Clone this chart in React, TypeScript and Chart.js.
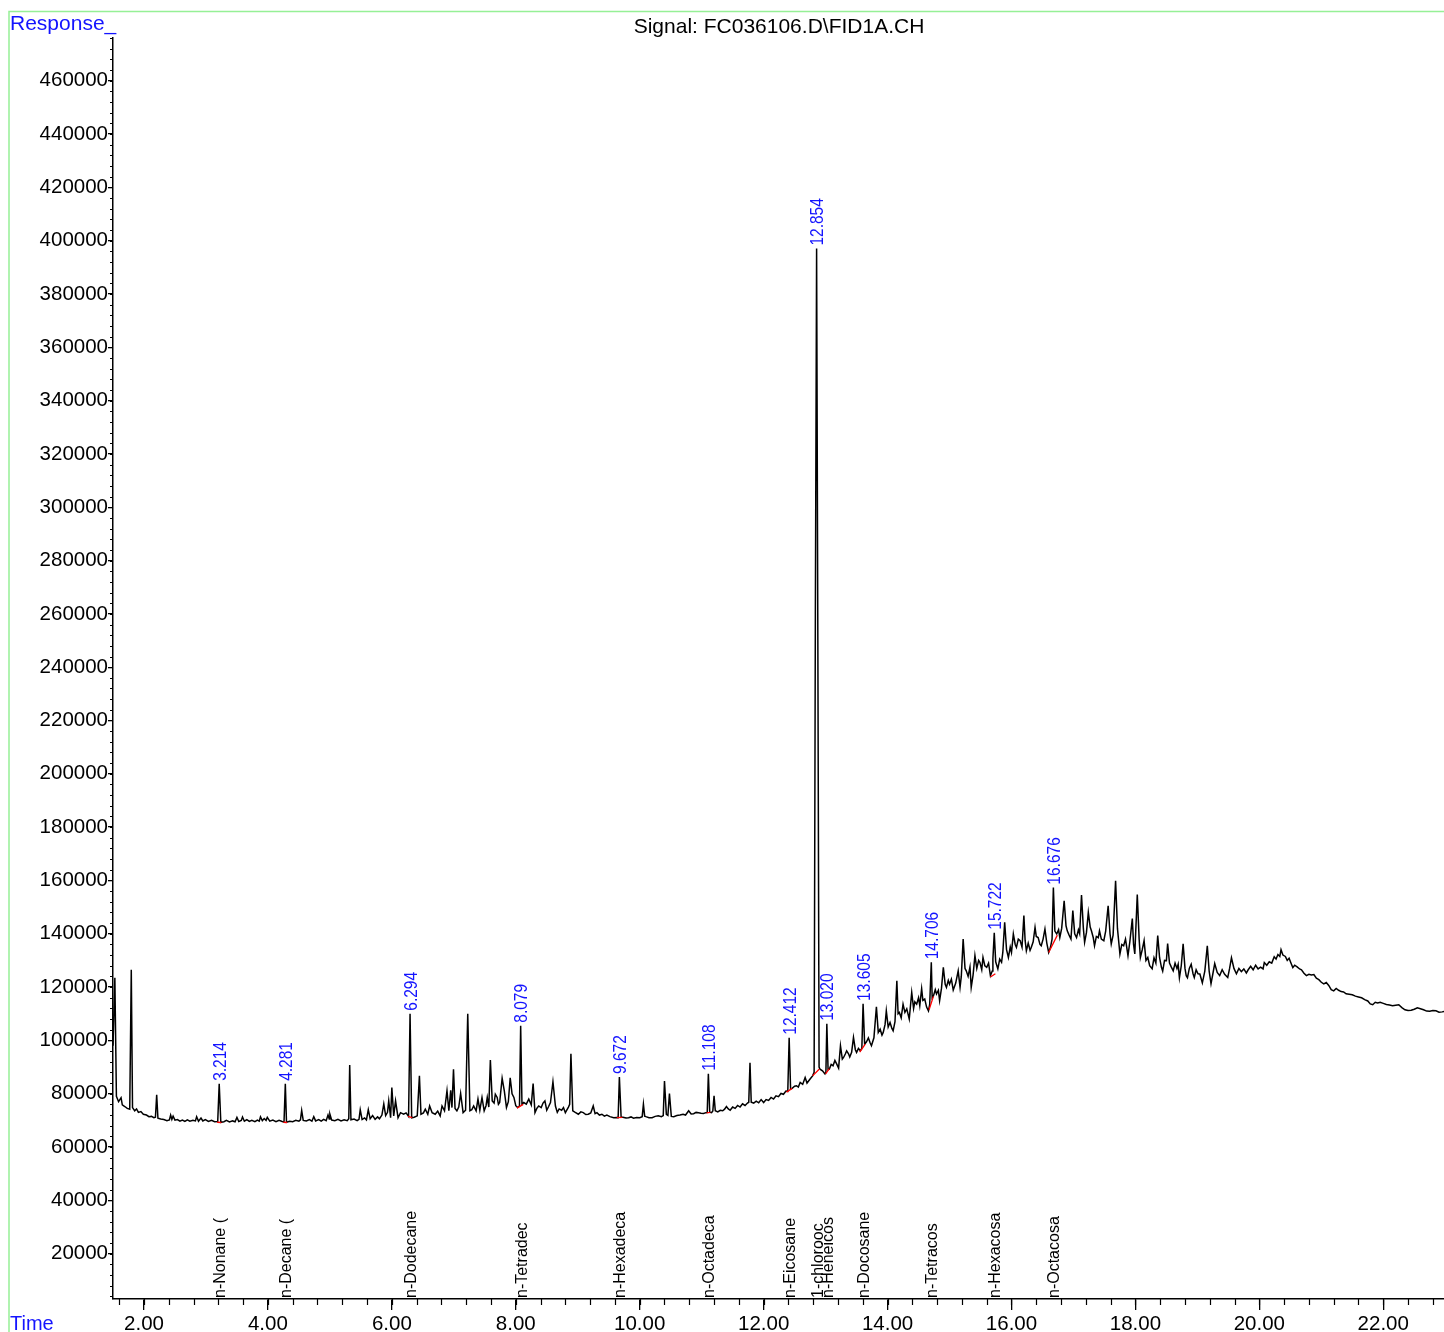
import React, { useEffect, useRef } from "react";
import { Chart, registerables } from "chart.js";

Chart.register(...registerables);

// ---- axes ----
const X_MIN = 1.5;
const X_MAX = 22.98;
const Y_MIN = 3000;
const Y_MAX = 476000;
const X_TICKS = [2, 4, 6, 8, 10, 12, 14, 16, 18, 20, 22];
const Y_TICKS = [
  20000, 40000, 60000, 80000, 100000, 120000, 140000, 160000, 180000, 200000, 220000, 240000,
  260000, 280000, 300000, 320000, 340000, 360000, 380000, 400000, 420000, 440000, 460000,
];

// ---- annotated peaks ----
const PEAK_RT = [3.214, 4.281, 6.294, 8.079, 9.672, 11.108, 12.412, 12.854, 13.02, 13.605, 14.706, 15.722, 16.676];
const PEAK_LABELS = ["3.214", "4.281", "6.294", "8.079", "9.672", "11.108", "12.412", "12.854", "13.020", "13.605", "14.706", "15.722", "16.676"];
const COMPOUND_NAMES = [
  "n-Nonane (", "n-Decane (", "n-Dodecane", "n-Tetradec", "n-Hexadeca", "n-Octadeca", "n-Eicosane",
  "1-chlorooc", "n-Heneicos", "n-Docosane", "n-Tetracos", "n-Hexacosa", "n-Octacosa",
];

// integration baselines [t1, v1, t2, v2]
const BASELINES: number[][] = [
  [3.18, 69300, 3.25, 69200],
  [4.25, 69300, 4.31, 69200],
  [6.26, 71500, 6.33, 71000],
  [8.02, 74600, 8.12, 76000],
  [9.63, 71000, 9.72, 71100],
  [11.08, 72800, 11.14, 73000],
  [12.37, 80600, 12.46, 82000],
  [12.79, 86700, 12.9, 89300],
  [13.0, 87400, 13.06, 89400],
  [13.55, 95600, 13.64, 98600],
  [14.67, 111500, 14.74, 116500],
  [15.66, 123800, 15.74, 125000],
  [16.6, 133000, 16.74, 139500],
];

// ---- FID signal: [time (min), response] ----
const TRACE_EARLY: number[][] = [
  [1.5, 98000], [1.53, 123500], [1.555, 79000], [1.59, 77000], [1.63, 78500], [1.65, 75800], [1.69, 75200],
  [1.73, 74500], [1.77, 74200], [1.795, 126500], [1.815, 74800], [1.85, 73600], [1.88, 74300], [1.91, 73000],
  [1.95, 73300], [1.99, 72300], [2.04, 72000], [2.08, 71400], [2.12, 71500], [2.16, 71000], [2.185, 71200],
  [2.205, 79600], [2.225, 70800], [2.27, 70500], [2.32, 70300], [2.37, 69900], [2.41, 70200], [2.43, 72000],
  [2.45, 70400], [2.47, 71600], [2.5, 70100], [2.54, 70300], [2.58, 69700], [2.62, 70100], [2.66, 69600],
  [2.7, 70200], [2.74, 69700], [2.79, 70000], [2.83, 69800], [2.85, 71400], [2.88, 69700], [2.92, 70900],
  [2.95, 69800], [2.99, 70300], [3.04, 69600], [3.09, 70000], [3.14, 69500], [3.19, 69600], [3.214, 83700],
  [3.24, 69300], [3.29, 69500], [3.33, 70000], [3.38, 69400], [3.43, 69800], [3.47, 69500], [3.5, 71100],
  [3.53, 69600], [3.57, 70000], [3.59, 71300], [3.62, 69700], [3.66, 70300], [3.7, 69600], [3.74, 70000],
  [3.79, 69500], [3.83, 70100], [3.86, 69700], [3.88, 71300], [3.91, 69900], [3.94, 70700], [3.97, 70000],
  [3.99, 71100], [4.03, 69700], [4.08, 70100], [4.13, 69500], [4.18, 70000], [4.23, 69600], [4.26, 69400],
  [4.281, 83700], [4.3, 69300], [4.35, 69700], [4.4, 69500], [4.45, 70000], [4.5, 69700], [4.525, 70200],
  [4.545, 73700], [4.57, 70000], [4.62, 69800], [4.67, 70300], [4.71, 69700], [4.74, 71400], [4.77, 69800],
  [4.82, 70300], [4.86, 69700], [4.9, 70400], [4.94, 69900], [4.97, 72000], [4.99, 70500], [5.0, 72400],
  [5.03, 70100], [5.08, 69900], [5.13, 70400], [5.18, 69800], [5.23, 70200], [5.28, 69900], [5.305, 70600],
  [5.32, 90800], [5.34, 70200], [5.39, 70500], [5.44, 69900], [5.47, 70400], [5.49, 74000], [5.52, 70300],
  [5.56, 70900], [5.59, 70200], [5.62, 74000], [5.65, 70600], [5.69, 71800], [5.73, 70400], [5.77, 71300],
  [5.8, 70600],
];

const TRACE_MID: number[][] = [
  [5.84, 72000], [5.87, 76200], [5.9, 71800], [5.93, 73000], [5.95, 77300], [5.98, 71000], [6.0, 82300],
  [6.03, 71700], [6.06, 77300], [6.1, 71000], [6.14, 72900], [6.19, 72300], [6.23, 72800], [6.27, 71500],
  [6.294, 110000], [6.32, 71000], [6.36, 71200], [6.41, 71700], [6.445, 86700], [6.47, 72300], [6.51, 72800],
  [6.54, 74200], [6.58, 72300], [6.61, 75400], [6.65, 72900], [6.7, 72300], [6.74, 73500], [6.78, 71700],
  [6.81, 75400], [6.85, 73600], [6.89, 81100], [6.92, 73600], [6.95, 81300], [6.97, 74800], [6.995, 89200],
  [7.02, 74500], [7.05, 73600], [7.08, 75000], [7.11, 80100], [7.15, 72900], [7.19, 73800], [7.225, 110000],
  [7.26, 73600], [7.29, 74000], [7.32, 75400], [7.36, 73600], [7.39, 78000], [7.42, 73800], [7.455, 78600],
  [7.49, 73600], [7.52, 75500], [7.54, 78600], [7.565, 75000], [7.59, 92600], [7.62, 77300], [7.65, 76500],
  [7.67, 79800], [7.7, 78600], [7.72, 76000], [7.74, 76700], [7.78, 85800], [7.815, 81100], [7.85, 74800],
  [7.88, 77000], [7.91, 86000], [7.94, 80000], [7.97, 78600], [8.0, 75500], [8.03, 74800], [8.06, 75400],
  [8.079, 105500], [8.1, 76000], [8.13, 76700], [8.17, 76100], [8.21, 78000], [8.25, 75800], [8.28, 83800],
  [8.31, 72900], [8.34, 74500], [8.37, 75400], [8.41, 74800], [8.44, 76500], [8.47, 77300], [8.5, 73800],
  [8.53, 75200], [8.56, 76700], [8.6, 84500], [8.64, 75400], [8.67, 73000], [8.7, 74300], [8.74, 73800],
  [8.77, 74800], [8.8, 72900], [8.85, 75000], [8.87, 76000], [8.89, 95000], [8.92, 73600], [8.96, 73000],
  [9.01, 72300], [9.05, 73200], [9.09, 72900], [9.13, 72200], [9.17, 72300], [9.21, 72800], [9.25, 75400],
  [9.28, 72500], [9.31, 72900], [9.35, 72000], [9.39, 72300], [9.43, 71600], [9.47, 72000], [9.52, 71400],
  [9.58, 71000], [9.63, 71100], [9.652, 71000], [9.672, 86300], [9.7, 71200], [9.73, 71200], [9.78, 70900],
  [9.82, 71000], [9.86, 71300], [9.9, 70800], [9.95, 71100], [10.0, 71000], [10.04, 71400], [10.06, 76100],
  [10.08, 71600], [10.1, 71400], [10.15, 71000], [10.2, 71000], [10.25, 71500], [10.3, 71700], [10.35, 71400],
  [10.38, 71800], [10.4, 84800], [10.43, 72300], [10.455, 71900], [10.48, 80100], [10.51, 71500], [10.55, 71400],
  [10.6, 71800], [10.65, 72000], [10.7, 72300], [10.74, 72000], [10.79, 73600], [10.83, 72400], [10.87, 72500],
  [10.91, 73000], [10.95, 72900], [10.99, 72700], [11.03, 72600], [11.07, 72900], [11.09, 73000], [11.108, 87500],
  [11.13, 73100], [11.16, 72900], [11.18, 73500], [11.2, 79200], [11.22, 73600], [11.26, 73200], [11.3, 73800],
  [11.34, 73600], [11.37, 74200], [11.4, 75200], [11.43, 74300], [11.46, 73800],
];

const TRACE_RISE: number[][] = [
  [11.5, 75000], [11.54, 74500], [11.58, 75600], [11.62, 75000], [11.66, 76200], [11.7, 75600], [11.74, 76500],
  [11.76, 76800], [11.78, 91600], [11.8, 76800], [11.84, 76500], [11.88, 77200], [11.92, 76600], [11.96, 77800],
  [12.0, 76700], [12.04, 77800], [12.08, 77500], [12.12, 78600], [12.16, 78000], [12.2, 79200], [12.24, 78900],
  [12.28, 80100], [12.32, 79800], [12.36, 81000], [12.39, 80900], [12.412, 101000], [12.435, 81800],
  [12.46, 82000], [12.5, 82800], [12.53, 83000], [12.56, 82500], [12.59, 84200], [12.63, 83500], [12.67, 86100],
  [12.7, 84000], [12.75, 85500], [12.79, 86700], [12.815, 88000], [12.835, 260000], [12.855, 397000],
  [12.875, 250000], [12.895, 90000], [12.91, 89200], [12.95, 88600], [12.99, 87400], [13.005, 88000],
  [13.02, 106200], [13.04, 89000], [13.06, 89200], [13.09, 91000], [13.12, 90500], [13.15, 92500], [13.18, 91100],
  [13.21, 89600], [13.24, 98000], [13.27, 93000], [13.29, 93600], [13.32, 95000], [13.34, 96100], [13.37, 95000],
  [13.39, 93800], [13.42, 95500], [13.45, 101100], [13.48, 96500], [13.5, 95500], [13.53, 97000], [13.56, 96100],
  [13.585, 97000], [13.605, 113700], [13.63, 98600], [13.66, 99500], [13.69, 100900], [13.72, 99000],
  [13.74, 98000], [13.78, 101000], [13.82, 112600], [13.85, 103000], [13.88, 104200], [13.91, 102000],
  [13.93, 103000], [13.96, 106000], [13.98, 111100], [14.01, 105000], [14.04, 106700], [14.07, 104500],
  [14.09, 103600], [14.12, 107000], [14.15, 122400], [14.17, 110000], [14.19, 110500], [14.22, 108500],
  [14.25, 113600], [14.28, 110500], [14.31, 111800], [14.35, 108000], [14.39, 118000], [14.42, 112000],
  [14.44, 114500], [14.47, 113600], [14.5, 116000], [14.52, 113000], [14.55, 119400], [14.57, 115000],
  [14.6, 115500], [14.63, 112500], [14.66, 111100], [14.68, 113500], [14.706, 129300], [14.72, 116000],
  [14.74, 116700], [14.77, 119000], [14.79, 117400], [14.82, 118800], [14.84, 114900], [14.87, 119500],
  [14.9, 127400], [14.93, 121000], [14.95, 119900], [14.98, 122500], [15.0, 121100], [15.03, 123000],
  [15.06, 118900], [15.1, 121500], [15.14, 126100], [15.17, 119900], [15.19, 124000], [15.22, 138000],
  [15.25, 127000], [15.27, 126100], [15.3, 124000], [15.33, 127500], [15.35, 119900], [15.38, 124500],
  [15.41, 131800], [15.44, 127000], [15.47, 130000], [15.49, 129300], [15.52, 126500], [15.54, 131100],
  [15.57, 128000], [15.6, 127400], [15.63, 129000], [15.66, 124300], [15.69, 126000], [15.7, 130500],
  [15.722, 140400], [15.745, 129500], [15.78, 126800], [15.81, 130500], [15.84, 129300], [15.86, 133000],
  [15.89, 144300], [15.92, 134000], [15.95, 131100], [15.98, 135000], [16.0, 133000], [16.03, 139900],
  [16.06, 136000], [16.08, 134900], [16.11, 138000], [16.14, 137400], [16.17, 135000], [16.2, 146800],
  [16.22, 137500], [16.24, 133600], [16.27, 136500], [16.3, 133800], [16.32, 134900], [16.35, 137000],
  [16.38, 142400], [16.4, 139000], [16.43, 138600], [16.46, 136000], [16.48, 135500], [16.51, 138000],
  [16.54, 141800], [16.57, 136500], [16.6, 133000], [16.63, 135000], [16.655, 138000], [16.676, 157300],
  [16.7, 141000], [16.73, 139900], [16.76, 141500], [16.78, 138600], [16.81, 142000], [16.85, 152400],
  [16.88, 143000], [16.9, 141100], [16.93, 139500], [16.96, 138000], [16.99, 148700],
];

const TRACE_LATE: number[][] = [
  [17.02, 140000], [17.05, 138600], [17.08, 141500], [17.1, 140000], [17.13, 154500], [17.16, 142000],
  [17.18, 136800], [17.21, 140500], [17.24, 148000], [17.27, 142500], [17.29, 141100], [17.32, 138500],
  [17.34, 135500], [17.37, 139000], [17.4, 138500], [17.42, 141100], [17.45, 138000], [17.49, 137400],
  [17.52, 141000], [17.56, 150500], [17.59, 140000], [17.61, 136200], [17.64, 139500], [17.68, 159900],
  [17.71, 142000], [17.75, 132400], [17.78, 136000], [17.81, 135500], [17.84, 138000], [17.88, 131800],
  [17.91, 137000], [17.95, 145700], [17.97, 136000], [17.99, 132400], [18.03, 154700], [18.06, 138000],
  [18.08, 131100], [18.11, 134000], [18.14, 137400], [18.17, 130000], [18.2, 131100], [18.23, 128000],
  [18.27, 126900], [18.3, 131000], [18.33, 129000], [18.36, 139300], [18.39, 131000], [18.42, 127400],
  [18.44, 126000], [18.47, 130000], [18.5, 129900], [18.52, 136300], [18.55, 129000], [18.58, 127500],
  [18.61, 126100], [18.64, 129000], [18.67, 127000], [18.69, 128600], [18.71, 123500], [18.74, 128000],
  [18.77, 136200], [18.8, 127000], [18.82, 124300], [18.84, 123500], [18.87, 127000], [18.9, 128600],
  [18.93, 125000], [18.95, 123600], [18.98, 126500], [19.01, 125000], [19.04, 124900], [19.08, 121600],
  [19.12, 126000], [19.16, 135500], [19.19, 126000], [19.22, 121300], [19.25, 125000], [19.28, 128800],
  [19.32, 125500], [19.36, 124300], [19.4, 126500], [19.44, 124800], [19.49, 123600], [19.52, 127000],
  [19.55, 131000], [19.59, 127000], [19.63, 125000], [19.67, 127000], [19.71, 125800], [19.75, 126800],
  [19.79, 125300], [19.82, 126500], [19.86, 127800], [19.9, 126500], [19.94, 128200], [19.98, 126800],
  [20.02, 127500], [20.06, 126800], [20.08, 129200], [20.12, 128200], [20.16, 129500], [20.2, 129000],
  [20.24, 131400], [20.27, 130500], [20.3, 132200], [20.33, 131500], [20.35, 134000], [20.38, 132000],
  [20.42, 131500], [20.45, 130000], [20.48, 130800], [20.51, 129000], [20.54, 127300], [20.57, 128200],
  [20.61, 127600], [20.65, 126800], [20.68, 126500], [20.72, 125200], [20.76, 124300], [20.8, 124800],
  [20.84, 124500], [20.88, 124700], [20.92, 123300], [20.96, 122800], [21.0, 121800], [21.04, 121200],
  [21.08, 121700], [21.12, 120600], [21.16, 119000], [21.2, 118600], [21.24, 119500], [21.28, 118800],
  [21.32, 118300], [21.36, 118200], [21.4, 117500], [21.45, 117300], [21.5, 117100], [21.55, 116600],
  [21.6, 116300], [21.65, 116000], [21.7, 115300], [21.75, 114800], [21.79, 113700], [21.83, 113400],
  [21.87, 114300], [21.91, 114000], [21.95, 114300], [22.0, 113900], [22.05, 113500], [22.1, 113300],
  [22.15, 113000], [22.2, 113200], [22.25, 113400], [22.3, 112300], [22.35, 111500], [22.4, 111200],
  [22.45, 111300], [22.5, 111700], [22.55, 112200], [22.6, 111900], [22.65, 111500], [22.7, 111000],
  [22.75, 110900], [22.8, 111200], [22.85, 111100], [22.9, 110600], [22.95, 110700], [22.98, 110800],
];

const FONT = "'Liberation Sans', Arial, Helvetica, sans-serif";
const BLUE = "#1414ff";

export default function App() {
  const ref = useRef<HTMLCanvasElement>(null);

  useEffect(() => {
    const canvas = ref.current;
    if (!canvas) return;
    const trace = [...TRACE_EARLY, ...TRACE_MID, ...TRACE_RISE, ...TRACE_LATE].map(([x, y]) => ({ x, y }));
    const red: any[] = [];
    BASELINES.forEach(([t1, v1, t2, v2]) => {
      red.push({ x: t1, y: v1 }, { x: t2, y: v2 }, { x: t2 + 0.001, y: null });
    });

    const decor = {
      id: "decor",
      beforeDraw(chart: any) {
        const ctx = chart.ctx;
        ctx.save();
        ctx.strokeStyle = "rgb(150,240,150)";
        ctx.lineWidth = 1.5;
        ctx.beginPath();
        ctx.moveTo(9, 1332);
        ctx.lineTo(9, 11.5);
        ctx.lineTo(1444, 11.5);
        ctx.stroke();
        ctx.restore();
      },
      afterDraw(chart: any) {
        const ctx = chart.ctx;
        const xs = chart.scales.x;
        const ys = chart.scales.y;
        const area = chart.chartArea;
        ctx.save();
        // minor ticks
        ctx.strokeStyle = "#000";
        ctx.lineWidth = 1.2;
        ctx.beginPath();
        for (let i = 0; i <= 60; i++) {
          const v = 1.6 + i * 0.4;
          if (v > X_MAX) break;
          const px = Math.round(xs.getPixelForValue(v)) + 0.5;
          ctx.moveTo(px, area.bottom);
          ctx.lineTo(px, area.bottom + 6);
        }
        for (let i = 1; i <= 200; i++) {
          const v = i * 4000;
          if (v > Y_MAX) break;
          if (v < Y_MIN) continue;
          const py = Math.round(ys.getPixelForValue(v)) + 0.5;
          ctx.moveTo(area.left, py);
          ctx.lineTo(area.left - 3, py);
        }
        ctx.stroke();

        // peak retention-time labels
        const all = chart.data.datasets[0].data as any[];
        PEAK_RT.forEach((rt, i) => {
          let mx = -Infinity;
          all.forEach((p) => {
            if (Math.abs(p.x - rt) < 0.02 && p.y > mx) mx = p.y;
          });
          const px = xs.getPixelForValue(rt);
          const py = ys.getPixelForValue(mx);
          ctx.save();
          ctx.translate(px, py - 3);
          ctx.rotate(-Math.PI / 2);
          ctx.scale(1, 1.2);
          ctx.font = `15.5px ${FONT}`;
          ctx.fillStyle = BLUE;
          ctx.textAlign = "left";
          ctx.textBaseline = "alphabetic";
          ctx.fillText(PEAK_LABELS[i], 0, 5.5);
          ctx.restore();

          // compound names
          ctx.save();
          ctx.translate(px, area.bottom - 1);
          ctx.rotate(-Math.PI / 2);
          ctx.font = `16px ${FONT}`;
          ctx.fillStyle = "#000";
          ctx.textAlign = "left";
          ctx.textBaseline = "alphabetic";
          ctx.fillText(COMPOUND_NAMES[i], 0, 6);
          ctx.restore();
        });

        // headings
        ctx.fillStyle = BLUE;
        ctx.textAlign = "left";
        ctx.textBaseline = "alphabetic";
        ctx.font = `21px ${FONT}`;
        ctx.fillText("Response_", 10, 30);
        ctx.font = `20px ${FONT}`;
        ctx.fillText("Time", 10, 1330);
        ctx.fillStyle = "#000";
        ctx.textAlign = "center";
        ctx.font = `21px ${FONT}`;
        ctx.fillText("Signal: FC036106.D\\FID1A.CH", 779, 33);
        ctx.restore();
      },
    };

    const chart = new Chart(canvas, {
      type: "line",
      data: {
        datasets: [
          {
            data: trace as any,
            borderColor: "#000",
            borderWidth: 1.5,
            pointRadius: 0,
            tension: 0,
            order: 2,
          },
          {
            data: red as any,
            borderColor: "#ff0000",
            borderWidth: 1.3,
            pointRadius: 0,
            tension: 0,
            spanGaps: false,
            order: 1,
          },
        ],
      },
      options: {
        responsive: false,
        animation: false,
        events: [],
        layout: { padding: { left: 0, right: 0, top: 38, bottom: 0 } },
        plugins: { legend: { display: false }, tooltip: { enabled: false }, title: { display: false } },
        scales: {
          x: {
            type: "linear",
            min: X_MIN,
            max: X_MAX,
            afterBuildTicks: (s: any) => {
              s.ticks = X_TICKS.map((v) => ({ value: v }));
            },
            afterFit: (s: any) => {
              s.height = 33;
            },
            ticks: {
              autoSkip: false,
              maxRotation: 0,
              padding: 2,
              color: "#000",
              font: { family: FONT, size: 20.5 },
              callback: (v: any) => Number(v).toFixed(2),
            },
            grid: { drawOnChartArea: false, drawTicks: true, tickLength: 11, color: "#000", lineWidth: 1.3 },
            border: { display: true, color: "#000", width: 1.5 },
          },
          y: {
            type: "linear",
            min: Y_MIN,
            max: Y_MAX,
            afterBuildTicks: (s: any) => {
              s.ticks = Y_TICKS.map((v) => ({ value: v }));
            },
            afterFit: (s: any) => {
              s.width = 113;
            },
            ticks: {
              autoSkip: false,
              padding: 0,
              color: "#000",
              font: { family: FONT, size: 20.5 },
              callback: (v: any) => String(v),
            },
            grid: { drawOnChartArea: false, drawTicks: true, tickLength: 5, color: "#000", lineWidth: 1.3 },
            border: { display: true, color: "#000", width: 1.5 },
          },
        },
      },
      plugins: [decor as any],
    });
    return () => chart.destroy();
  }, []);

  return (
    <div style={{ position: "absolute", left: 0, top: 0, width: 1444, height: 1332, background: "#fff" }}>
      <canvas ref={ref} width={1444} height={1332} style={{ width: 1444, height: 1332, display: "block" }} />
    </div>
  );
}
